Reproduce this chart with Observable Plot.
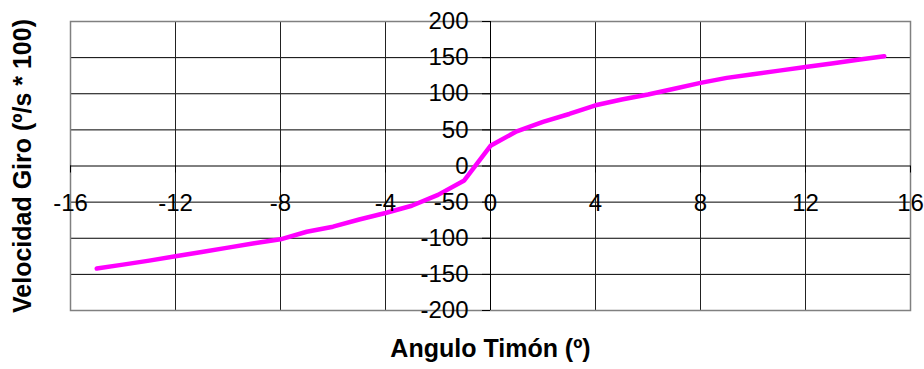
<!DOCTYPE html>
<html>
<head>
<meta charset="utf-8">
<script src="https://cdn.jsdelivr.net/npm/d3@7"></script>
<script src="https://cdn.jsdelivr.net/npm/@observablehq/plot@0.6"></script>
<style>
  html, body { margin: 0; padding: 0; background: #fff; }
  #chart svg { display: block; }
</style>
</head>
<body>
<div id="chart"></div>
<script>
const angulo = [-15, -14, -13, -12, -11, -10, -9, -8, -7, -6, -5, -4, -3, -2, -1, 0, 1, 2, 3, 4, 5, 6, 7, 8, 9, 10, 11, 12, 13, 14, 15];
const velocidad = [-142, -136.5, -131, -125, -119, -113, -107, -101.5, -91, -84, -74, -65, -55, -40, -20, 28, 48, 61, 72, 84, 92, 99, 107, 115, 122, 127, 132, 137, 142, 147, 152];
const xTicks = [-16, -12, -8, -4, 0, 4, 8, 12, 16];
const yTicks = [-200, -150, -100, -50, 0, 50, 100, 150, 200];
const xLabel = "Angulo Timón (º)";
const yLabel = "Velocidad Giro (º/s * 100)";

const data = angulo.map((a, i) => ({a, v: velocidad[i]}));
const font = "Arial, 'Liberation Sans', sans-serif";

const chart = Plot.plot({
  width: 924,
  height: 369,
  marginLeft: 70,
  marginRight: 14,
  marginTop: 21,
  marginBottom: 59,
  style: {fontFamily: font, background: "#fff", color: "#000"},
  x: {domain: [-16, 16], axis: null},
  y: {domain: [-200, 200], axis: null},
  marks: [
    Plot.ruleY(yTicks.filter(d => Math.abs(d) < 200 && d !== 0), {stroke: "#000", strokeWidth: 1}),
    Plot.ruleX(xTicks.filter(d => Math.abs(d) < 16 && d !== 0), {stroke: "#222", strokeWidth: 1}),
    Plot.frame({stroke: "#808080", strokeWidth: 1.5}),
    Plot.ruleY([0], {stroke: "#000", strokeWidth: 1}),
    Plot.ruleX([0], {stroke: "#000", strokeWidth: 1}),
    Plot.ruleY(yTicks, {y: d => d, x1: 0, x2: 0, insetLeft: -8, stroke: "#000"}),
    Plot.ruleX(xTicks, {x: d => d, y1: 0, y2: 0, insetBottom: -7, stroke: "#000"}),
    Plot.line(data, {x: "a", y: "v", stroke: "#FF00FF", strokeWidth: 4.5}),
    Plot.text(yTicks, {x: 0, y: d => d, text: d => String(d), textAnchor: "end", dx: -22, fontSize: 24, fill: "#000"}),
    Plot.text(xTicks, {x: d => d, y: 0, text: d => String(d), textAnchor: "middle", dy: 37, fontSize: 24, fill: "#000"}),
    Plot.text([xLabel], {frameAnchor: "bottom", textAnchor: "middle", dy: 46, text: d => d, fontSize: 25, fontWeight: "bold", fill: "#000"}),
    Plot.text([yLabel], {frameAnchor: "left", textAnchor: "middle", dx: -48, rotate: -90, text: d => d, fontSize: 25, fontWeight: "bold", fill: "#000"})
  ]
});
document.getElementById("chart").append(chart);
</script>
</body>
</html>
